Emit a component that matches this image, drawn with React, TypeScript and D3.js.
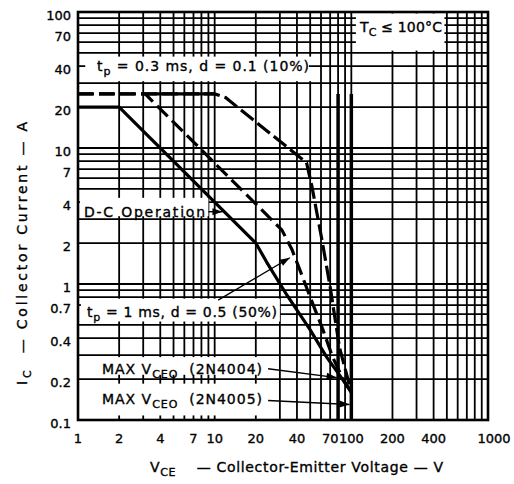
import React from "react";
import * as d3 from "d3";

// ---- data ----
const xTickValues = [1, 2, 4, 7, 10, 20, 40, 70, 100, 200, 400, 1000];
const xTickLabels = ["1", "2", "4", "7", "10", "20", "40", "70", "100", "200", "400", "1000"];
const yTickValues = [0.1, 0.2, 0.4, 0.7, 1, 2, 4, 7, 10, 20, 40, 70, 100];
const yTickLabels = ["0.1", "0.2", "0.4", "0.7", "1", "2", "4", "7", "10", "20", "40", "70", "100"];

// D-C operation (solid)
const dcV = [1, 2, 20, 24, 34, 50, 66, 83, 100];
const dcI = [20, 20, 2, 1.45, 0.82, 0.46, 0.29, 0.21, 0.16];
// tp = 1 ms, d = 0.5 (dashed)
const p1V = [1, 3.1, 31, 36.7, 42, 50, 62, 73, 87, 100];
const p1I = [25, 25, 2.5, 1.8, 1.27, 0.8, 0.46, 0.29, 0.2, 0.16];
// tp = 0.3 ms, d = 0.1 (long dashed)
const p03V = [1, 10, 12, 47, 51.5, 61, 70, 82, 100];
const p03I = [25, 25, 23.5, 7.8, 5.2, 2.1, 0.95, 0.34, 0.16];
// MAX VCEO limits (2N4004, 2N4005)
const limitV = [80, 100];
const limitTopI = 25;

const FONT = "DejaVu Sans";

function head(x1: number, y1: number, x2: number, y2: number, len = 10, w = 3.5) {
  const a = Math.atan2(y2 - y1, x2 - x1);
  const bx = x2 - len * Math.cos(a);
  const by = y2 - len * Math.sin(a);
  const px = -Math.sin(a) * w;
  const py = Math.cos(a) * w;
  return `${x2},${y2} ${bx + px},${by + py} ${bx - px},${by - py}`;
}

export default function App() {
  const W = 514, H = 484;
  const x = d3.scaleLog().domain([1, 1000]).range([78, 488]);
  const y = d3.scaleLog().domain([0.1, 100]).range([420, 12]);

  const gridX: number[] = [];
  for (let d = 0; d < 3; d++) for (let k = 1; k < 10; k++) gridX.push(k * Math.pow(10, d));
  gridX.push(1000);
  const gridY: number[] = [];
  for (let d = -1; d < 2; d++) for (let k = 1; k < 10; k++) gridY.push(k * Math.pow(10, d));
  gridY.push(100);

  const line = d3.line<[number, number]>().x(d => x(d[0])).y(d => y(d[1]));
  const dcPath = line(dcV.map((v, i) => [v, dcI[i]]) as [number, number][]) || "";
  const p1Path = line(p1V.map((v, i) => [v, p1I[i]]) as [number, number][]) || "";
  const p03Path = line(p03V.map((v, i) => [v, p03I[i]]) as [number, number][]) || "";
  const p03Flat = line([[p1V[1], p03I[0]], [p03V[1], p03I[1]]]) || "";

  const [x0, x1] = x.range();
  const [y0, y1] = [y(0.1), y(100)];

  // annotation anchors (data units)
  const dcArrow = { from: [9, 3.4], to: [11.4, 3.4] };
  const p1Arrow = { from: [10.6, 0.76], to: [35.5, 1.56] };
  const a4004 = { from: [24.6, 0.238], to: [78, 0.205] };
  const a4005 = { from: [24.6, 0.139], to: [97, 0.13] };

  const txt = { fontFamily: FONT, fill: "#000", whiteSpace: "pre" as const };
  const sw = { stroke: "#000", strokeWidth: 0.35 };

  const arrow = (a: { from: number[]; to: number[] }, key: string) => {
    const X1 = x(a.from[0]), Y1 = y(a.from[1]), X2 = x(a.to[0]), Y2 = y(a.to[1]);
    return (
      <g key={key}>
        <line x1={X1} y1={Y1} x2={X2} y2={Y2} stroke="#000" strokeWidth={1.4} />
        <polygon points={head(X1, Y1, X2, Y2)} fill="#000" />
      </g>
    );
  };

  return (
    <svg width={W} height={H} style={{ position: "absolute", left: 0, top: 0, background: "#fff" }}>
      <rect x={0} y={0} width={W} height={H} fill="#fff" />
      {/* grid */}
      <g stroke="#000" strokeWidth={1.8}>
        {gridX.map(v => (
          <line key={"gx" + v} x1={x(v)} x2={x(v)} y1={y0} y2={y1} />
        ))}
        {gridY.map(v => (
          <line key={"gy" + v} x1={x0} x2={x1} y1={y(v)} y2={y(v)} />
        ))}
      </g>

      {/* label boxes that cover the grid */}
      <g fill="#fff">
        <rect x={x0 + 1} y={y(47)} width={x(51.5) - x0 - 1} height={y(31) - y(47)} />
        <rect x={x(108)} y={y(100) + 1.5} width={x(480) - x(108)} height={y(52) - y(100) - 1.5} />
        <rect x={x0 + 2} y={y(4.3)} width={x(9) - x0 - 2} height={y(3.15) - y(4.3)} />
        <rect x={x0 + 1} y={y(0.78)} width={x(30) - x0 - 1} height={y(0.53) - y(0.78)} />
        <rect x={x0 + 1} y={y(0.29)} width={x(25) - x0 - 1} height={y(0.215) - y(0.29)} />
        <rect x={x0 + 1} y={y(0.185)} width={x(25) - x0 - 1} height={y(0.108) - y(0.185)} />
      </g>
      {/* gridline running through the 0.3 ms label */}
      <line x1={x0} x2={x(51.5)} y1={y(40)} y2={y(40)} stroke="#000" strokeWidth={1.8} />
      <rect x={x(1.13)} y={y(40) - 9} width={x(49) - x(1.13)} height={19} fill="#fff" />
      <line x1={x0} x2={x(1.05)} y1={y(0.7)} y2={y(0.7)} stroke="#000" strokeWidth={1.8} />

      {/* MAX VCEO limit lines */}
      {limitV.map(v => (
        <line key={"lim" + v} x1={x(v)} x2={x(v)} y1={y(limitTopI)} y2={y0} stroke="#000" strokeWidth={3.5} />
      ))}

      {/* curves */}
      <path d={dcPath} fill="none" stroke="#000" strokeWidth={3.2} strokeLinejoin="round" />
      <path d={p1Path} fill="none" stroke="#000" strokeWidth={3.2} strokeDasharray="15 6" />
      <path d={p03Path} fill="none" stroke="#000" strokeWidth={3.2} strokeDasharray="16 5" />
      <path d={p03Flat} fill="none" stroke="#000" strokeWidth={3.2} />

      {/* border */}
      <rect x={x0} y={y1} width={x1 - x0} height={y0 - y1} fill="none" stroke="#000" strokeWidth={2.6} />

      {/* arrows */}
      {arrow(dcArrow, "dc")}
      {arrow(p1Arrow, "p1")}
      {arrow(a4004, "a4")}
      {arrow(a4005, "a5")}

      {/* annotations */}
      <g {...sw}>
        <text x={97} y={y(40) + 5} fontSize={14} textLength={212} lengthAdjust="spacing" style={txt}>
          t<tspan dy={4} fontSize={11}>p</tspan><tspan dy={-4}> = 0.3 ms, d = 0.1 (10%)</tspan>
        </text>
        <text x={360} y={32} fontSize={14} textLength={82} lengthAdjust="spacing" style={txt}>
          T<tspan dy={4} fontSize={11}>C</tspan><tspan dy={-4}> ≤ 100°C</tspan>
        </text>
        <text x={84} y={217} fontSize={14} textLength={121} lengthAdjust="spacing" style={txt}>
          D-C Operation
        </text>
        <text x={87} y={317} fontSize={14} textLength={190} lengthAdjust="spacing" style={txt}>
          t<tspan dy={4} fontSize={11}>p</tspan><tspan dy={-4}> = 1 ms, d = 0.5 (50%)</tspan>
        </text>
        <text x={102} y={374} fontSize={14} textLength={160} lengthAdjust="spacing" style={txt}>
          MAX V<tspan dy={4} fontSize={11}>CEO</tspan><tspan dy={-4}>  (2N4004)</tspan>
        </text>
        <text x={102} y={404} fontSize={14} textLength={160} lengthAdjust="spacing" style={txt}>
          MAX V<tspan dy={4} fontSize={11}>CEO</tspan><tspan dy={-4}>  (2N4005)</tspan>
        </text>

        {/* tick labels */}
        {xTickValues.map((v, i) => (
          <text key={"xt" + v} x={x(v) + (i === xTickValues.length - 1 ? 6 : 0)} y={443} fontSize={13}
            textAnchor="middle" style={txt}>
            {xTickLabels[i]}
          </text>
        ))}
        {yTickValues.map((v, i) => (
          <text key={"yt" + v} x={71} y={y(v) + 3} fontSize={13} textAnchor="end"
            dominantBaseline="central" style={txt}>
            {yTickLabels[i]}
          </text>
        ))}

        {/* axis titles */}
        <text x={150} y={472} fontSize={14} textLength={293} lengthAdjust="spacing" style={txt}>
          V<tspan dy={4} fontSize={11}>CE</tspan><tspan dy={-4}>    — Collector-Emitter Voltage — V</tspan>
        </text>
        <text transform="translate(27,385) rotate(-90)" x={0} y={0} fontSize={14} textLength={263}
          lengthAdjust="spacing" style={txt}>
          I<tspan dy={4} fontSize={11}>C</tspan><tspan dy={-4}>  — Collector Current — A</tspan>
        </text>
      </g>
    </svg>
  );
}
